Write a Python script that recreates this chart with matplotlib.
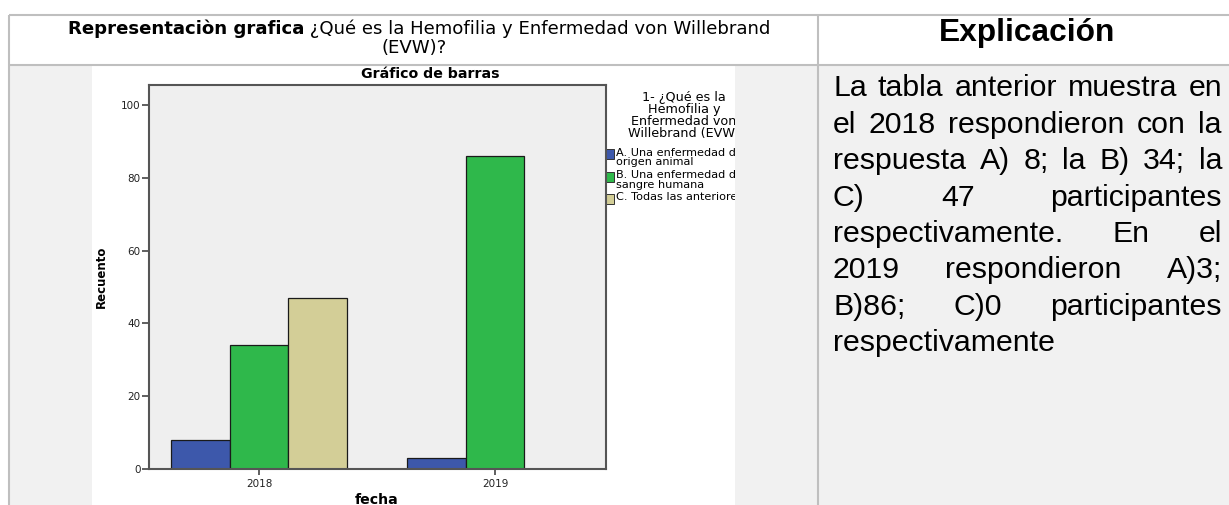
import matplotlib
matplotlib.use("Agg")
import matplotlib.pyplot as plt
from matplotlib.patches import Rectangle
from matplotlib.transforms import Bbox, TransformedBbox

# ---------------- data ----------------
categories = ["2018", "2019"]
series_names = ["A. Una enfermedad de\norigen animal",
                "B. Una enfermedad de\nsangre humana",
                "C. Todas las anteriores"]
values_A = [8, 3]
values_B = [34, 86]
values_C = [47, 0]
series_colors = ["#3d58ab", "#2fb84b", "#d3ce97"]

header_bold = "Representaciòn grafica"
header_rest = " ¿Qué es la Hemofilia y Enfermedad von Willebrand"
header_line2 = "(EVW)?"
right_header = "Explicación"
chart_title = "Gráfico de barras"
y_label = "Recuento"
x_label = "fecha"
legend_title = "1- ¿Qué es la\nHemofilia y\nEnfermedad von\nWillebrand (EVW)"
y_ticks = [0, 20, 40, 60, 80, 100]
body_lines = [
    "La tabla anterior muestra en",
    "el 2018 respondieron con la",
    "respuesta A) 8; la B) 34; la",
    "C) 47 participantes",
    "respectivamente. En el",
    "2019 respondieron A)3;",
    "B)86; C)0 participantes",
    "respectivamente",
]

W, H = 1229, 505
fig = plt.figure(figsize=(W / 100, H / 100), dpi=100)
fig.patch.set_facecolor("white")

bg = fig.add_axes([0, 0, 1, 1], zorder=0)
bg.set_xlim(0, W)
bg.set_ylim(H, 0)
bg.axis("off")

cell_gray = "#f1f1f1"
border = "#bfbfbf"
# backgrounds
bg.add_patch(Rectangle((9, 65), 83, H - 65, fc=cell_gray, ec="none"))
bg.add_patch(Rectangle((735, 65), 83, H - 65, fc=cell_gray, ec="none"))
bg.add_patch(Rectangle((819, 65), W - 819, H - 65, fc=cell_gray, ec="none"))
# borders
lw = 1.5
bg.plot([8.5, W], [15, 15], color=border, lw=lw, solid_capstyle="butt")
bg.plot([8.5, W], [64.5, 64.5], color=border, lw=lw, solid_capstyle="butt")
bg.plot([8.5, 8.5], [15, H], color=border, lw=lw, solid_capstyle="butt")
bg.plot([818, 818], [15, H], color=border, lw=lw, solid_capstyle="butt")

renderer = fig.canvas.get_renderer()


def text_width(s, **kw):
    t = bg.text(0, 0, s, **kw)
    w = t.get_window_extent(renderer).width
    t.remove()
    return w


# header texts
hfs = 13.1
hf = "DejaVu Sans"
t1 = bg.text(0, 29, header_bold, fontsize=hfs, fontweight="bold", family=hf,
             va="center", ha="left")
t2 = bg.text(0, 29, header_rest, fontsize=hfs, family=hf, va="center", ha="left")
w1 = t1.get_window_extent(renderer).width
w2 = t2.get_window_extent(renderer).width
x0 = 419 - (w1 + w2) / 2
t1.set_x(x0)
t2.set_x(x0 + w1)
bg.text(414, 48, header_line2, fontsize=hfs, family=hf, va="center", ha="center")

bg.text(1027, 33, right_header, fontsize=22.8, fontweight="bold",
        family="Liberation Sans", va="center", ha="center")

# justified body text
bfs = 21.8
bfont = dict(fontsize=bfs, family="Liberation Sans")
left, right = 833, 1222
base0, step = 96.5, 36.4
spw = text_width("a a", **bfont) - 2 * text_width("a", **bfont)
for i, line in enumerate(body_lines):
    y = base0 + i * step
    words = line.split(" ")
    texts = [bg.text(0, y, w, va="baseline", ha="left", **bfont) for w in words]
    widths = [t.get_window_extent(renderer).width for t in texts]
    if i == len(body_lines) - 1 or len(words) == 1:
        gap = spw
    else:
        gap = (right - left - sum(widths)) / (len(words) - 1)
    x = left
    for t, w in zip(texts, widths):
        t.set_x(x)
        x += w + gap

# chart white area
bg.add_patch(Rectangle((92, 65), 643, H - 65, fc="white", ec="none", zorder=0.5))

# chart title and labels (px coords)
chart_font = "DejaVu Sans"
bg.text(430, 74, chart_title, fontsize=10.2, fontweight="bold", family=chart_font,
        ha="center", va="center", zorder=2)
bg.text(101, 277, y_label, fontsize=8.5, fontweight="bold", family=chart_font,
        ha="center", va="center", rotation=90, zorder=2)
bg.text(377, 493, x_label, fontsize=10.2, fontweight="bold", family=chart_font,
        ha="center", va="top", zorder=2)

# legend (clipped to chart image)
clip = TransformedBbox(Bbox([[92, 65], [735, H]]), bg.transData)
lt = bg.text(684, 115.5, legend_title, fontsize=9.2, family=chart_font, ha="center",
             va="center", linespacing=0.9, zorder=2)
lt.set_clip_box(clip)
lt.set_clip_on(True)
leg_y = [154, 177, 199]
for name, col, y in zip(series_names, series_colors, leg_y):
    bg.add_patch(Rectangle((605, y - 5), 9, 10, fc=col, ec="#333333", lw=0.7, zorder=2))
    tt = bg.text(616, y - 6.5, name, fontsize=8.1, family=chart_font, ha="left",
                 va="top", linespacing=0.92, zorder=2)
    tt.set_clip_box(clip)
    tt.set_clip_on(True)

# ---------------- bar chart axes ----------------
ax_l, ax_r, ax_t, ax_b = 149, 606, 85, 469
ax = fig.add_axes([ax_l / W, (H - ax_b) / H, (ax_r - ax_l) / W, (ax_b - ax_t) / H], zorder=1)
ax.set_facecolor("#efefef")
bw = 0.2475
xs = list(range(len(categories)))
for k, (vals, col) in enumerate(zip([values_A, values_B, values_C], series_colors)):
    ax.bar([x + (k - 1) * bw for x in xs], vals, width=bw, color=col,
           edgecolor="#1a1a1a", linewidth=0.9, zorder=2)
ax.set_xlim(-0.466, 1.47)
ax.set_ylim(0, 105.5)
ax.set_yticks(y_ticks)
ax.set_xticks(xs)
ax.set_xticklabels(categories)
for s in ax.spines.values():
    s.set_color("#555555")
    s.set_linewidth(1.5)
ax.tick_params(axis="y", direction="out", length=5, width=1.2, color="#444444",
               labelsize=7.5, pad=1, labelcolor="#222222")
ax.tick_params(axis="x", direction="out", length=4, width=1.2, color="#444444",
               labelsize=7.5, pad=3, labelcolor="#222222")
for lab in ax.get_xticklabels() + ax.get_yticklabels():
    lab.set_family(chart_font)

fig.savefig("out.png", dpi=100)
